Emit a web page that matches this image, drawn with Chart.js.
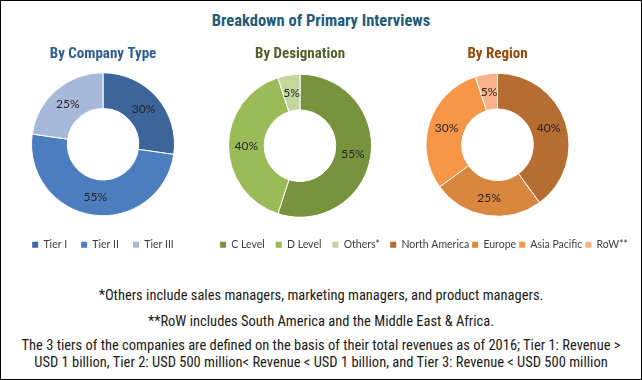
<!DOCTYPE html>
<html>
<head>
<meta charset="utf-8">
<script src="https://cdn.jsdelivr.net/npm/chart.js@4.4.1/dist/chart.umd.min.js"></script>
<style>
  body { margin: 0; background: #fff; }
  #frame {
    position: relative; width: 642px; height: 380px; box-sizing: border-box;
    border: 1px solid #000; overflow: hidden; background: #fff;
    font-family: 'Roboto Condensed', sans-serif;
  }
  #title {
    position: absolute; left: 0; top: 10px; width: 640px; line-height: 20px;
    text-align: center; font-weight: bold; font-size: 16.5px; color: #1F5B7C;
  }
  canvas { position: absolute; top: 39px; }
  .note {
    position: absolute; left: 0; width: 640px; text-align: center;
    font-size: 14.5px; line-height: 16px; color: #1a1a1a;
  }
</style>
</head>
<body>
<div id="frame">
  <div id="title">Breakdown of Primary Interviews</div>
  <canvas id="company-chart" width="186" height="220" style="left:9px"></canvas>
  <canvas id="designation-chart" width="230" height="220" style="left:184px"></canvas>
  <canvas id="region-chart" width="267" height="220" style="left:363px"></canvas>
  <div class="note" style="top:287px">*Others include sales managers, marketing managers, and product managers.</div>
  <div class="note" style="top:313px">**RoW includes South America and the Middle East &amp; Africa.</div>
  <div class="note" style="top:336px; line-height:17px">The 3 tiers of the companies are defined on the basis of their total revenues as of 2016; Tier 1: Revenue &gt;<br>USD 1 billion, Tier 2: USD 500 million&lt; Revenue &lt; USD 1 billion, and Tier 3: Revenue &lt; USD 500 million</div>
</div>
<script>
// chart data
const companyLabels = ['Tier I', 'Tier II', 'Tier III'];
const companyValues = [30, 55, 25];
const designationLabels = ['C Level', 'D Level', 'Others*'];
const designationValues = [55, 40, 5];
const regionLabels = ['North America', 'Europe', 'Asia Pacific', 'RoW**'];
const regionValues = [40, 25, 30, 5];

// colours
const companyColors = ['#3C659A', '#4C7EBF', '#A7B9DA'];
const designationColors = ['#77933C', '#9BBB59', '#C3D69B'];
const regionColors = ['#B66D31', '#D9863E', '#F79646', '#F9B28A'];

const narrowFont = "'Roboto Condensed', sans-serif";

// draws the % value in the middle of each slice
const percentLabels = {
    id: 'percentLabels',
    afterDatasetsDraw(chart) {
        const ctx = chart.ctx;
        const meta = chart.getDatasetMeta(0);
        const values = chart.data.datasets[0].data;
        ctx.save();
        ctx.font = '12px Lato';
        ctx.fillStyle = '#262626';
        ctx.textAlign = 'center';
        ctx.textBaseline = 'middle';
        meta.data.forEach((arc, i) => {
            const p = arc.getCenterPoint();
            ctx.fillText(values[i] + '%', p.x, p.y);
        });
        ctx.restore();
    }
};

// default doughnut legend items, but without the white slice border on the boxes
function solidLegendItems(chart) {
    const items = Chart.overrides.doughnut.plugins.legend.labels.generateLabels(chart);
    return items.map(item => Object.assign(item, { lineWidth: 0 }));
}

function createDonut(id, title, titleColor, labels, values, colors, legendPadding, legendAlign, legendSpacer) {
    const ctx = document.getElementById(id).getContext('2d');
    return new Chart(ctx, {
        type: 'doughnut',
        data: {
            labels: labels,
            datasets: [{
                data: values,
                backgroundColor: colors,
                borderColor: '#ffffff',
                borderWidth: 1,
                radius: 71.5,
                cutout: '50%'
            }]
        },
        options: {
            responsive: false,
            animation: false,
            layout: { padding: 0 },
            plugins: {
                title: {
                    display: true,
                    text: title,
                    color: titleColor,
                    font: { family: narrowFont, size: 15, weight: 'bold', lineHeight: 1.2 },
                    padding: { top: 5, bottom: 0 }
                },
                legend: {
                    position: 'bottom',
                    align: legendAlign,
                    // empty legend title only used as a spacer so all three legends sit on one line
                    title: {
                        display: legendSpacer > 0,
                        text: '',
                        font: { size: legendSpacer, lineHeight: 1 },
                        padding: 0
                    },
                    labels: {
                        boxWidth: 6,
                        boxHeight: 6,
                        padding: legendPadding,
                        color: '#404040',
                        font: { family: 'Lato', size: 10.5 },
                        generateLabels: solidLegendItems
                    }
                },
                tooltip: { enabled: false }
            }
        },
        plugins: [percentLabels]
    });
}

createDonut('company-chart', 'By Company Type', '#2F5E96', companyLabels, companyValues, companyColors, 14, 'center', 0);
createDonut('designation-chart', 'By Designation', '#4F6228', designationLabels, designationValues, designationColors, 11, 'center', 0);
createDonut('region-chart', 'By Region', '#984807', regionLabels, regionValues, regionColors, 3, 'end', 10);
</script>
</body>
</html>
